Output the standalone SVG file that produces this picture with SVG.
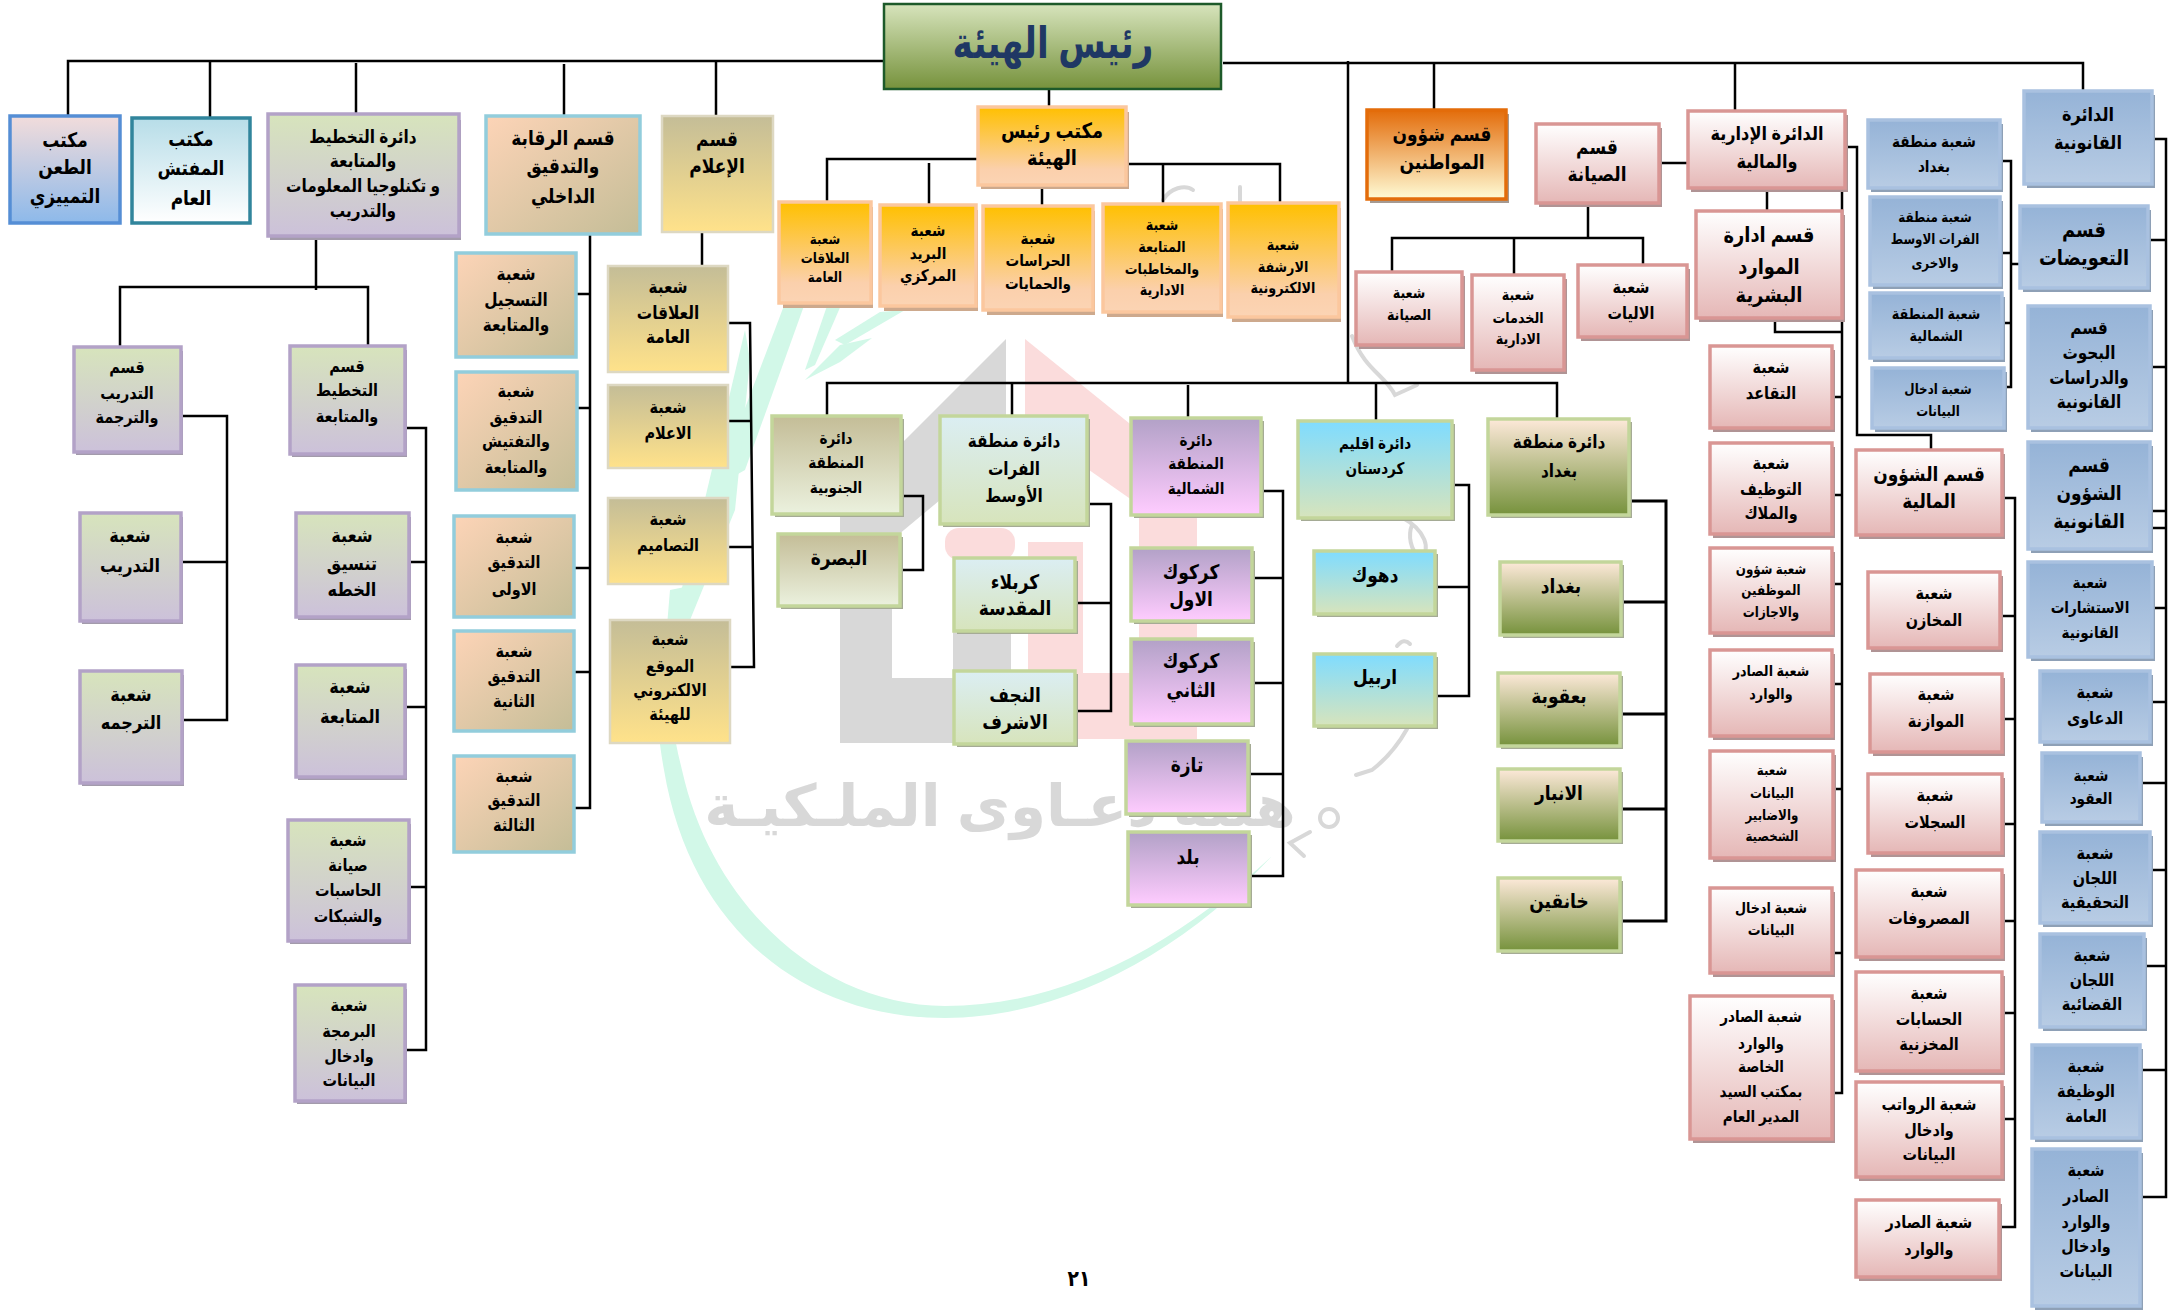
<svg xmlns="http://www.w3.org/2000/svg" width="2168" height="1311" viewBox="0 0 2168 1311">
<style>
text{font-family:"Liberation Sans","DejaVu Sans",sans-serif;font-weight:700;fill:#000;text-anchor:middle;direction:rtl;transform-box:fill-box;transform-origin:center;transform:scaleX(.85)}
.s{stroke:none}
.b{stroke-width:3.5}
#connectors path{fill:none;stroke:#000;stroke-width:2.5}
.pink .b{fill:url(#gPink);stroke:#d99694}.pink .s{fill:#b09495}
.blue .b{fill:url(#gBlue);stroke:#a9c1e0}.blue .s{fill:#8ea0b6}
.orng .b{fill:url(#gOrng);stroke:#fbc79e}.orng .s{fill:#cda98d}
.tan .b{fill:url(#gTan);stroke:#92cddc}.tan .s{fill:none}
.yel .b{fill:url(#gYel);stroke:#ddd8c2;stroke-width:2.5}.yel .s{fill:none}
.plan .b{fill:url(#gPlan);stroke:#b3a2c7}.plan .s{fill:#a39bab}
.south .b{fill:url(#gSouth);stroke:#c3d69b}.south .s{fill:#a5ab95}
.furat .b{fill:url(#gFurat);stroke:#c3d69b}.furat .s{fill:#a5ab95}
.north .b{fill:url(#gNorth);stroke:#c3d69b}.north .s{fill:#a5ab95}
.kurd .b{fill:url(#gKurd);stroke:#c3d69b}.kurd .s{fill:#a5ab95}
.bagh .b{fill:url(#gBagh);stroke:#c3d69b}.bagh .s{fill:#a5ab95}
.taan .b{fill:url(#gTaan);stroke:#558ed5}
.muf .b{fill:url(#gMuf);stroke:#31859c}
.cit .b{fill:url(#gCit);stroke:#e36c0a}.cit .s{fill:#a59a92}
.rais .b{fill:url(#gRais);stroke:#1d5a2a;stroke-width:2.5}
.rais text{fill:#1f3864;transform:scaleX(.78)}
.wm{fill:#d2f8e8}.wg{fill:#d8d8d8}.wr{fill:#fbdcdc}
#watermark text{fill:#d8d8d8;transform:none}
#watermark path.q{fill:none;stroke:#d8d8d8;stroke-width:4;stroke-linecap:round}
</style>
<defs>
<linearGradient id="gPink" x1="0" y1="0" x2="0" y2="1"><stop offset="0" stop-color="#fff"/><stop offset="1" stop-color="#e5b7b6"/></linearGradient>
<linearGradient id="gBlue" x1="0" y1="0" x2="0" y2="1"><stop offset="0" stop-color="#95b3d7"/><stop offset="1" stop-color="#b8cce4"/></linearGradient>
<linearGradient id="gOrng" x1="0" y1="0" x2="0" y2="1"><stop offset="0" stop-color="#ffc000"/><stop offset=".8" stop-color="#fbd0ac"/><stop offset="1" stop-color="#fbd4b4"/></linearGradient>
<linearGradient id="gTan" x1="0" y1="0" x2="1" y2="1"><stop offset="0" stop-color="#fdd4b7"/><stop offset="1" stop-color="#c4bd97"/></linearGradient>
<linearGradient id="gYel" x1="0" y1="0" x2="0" y2="1"><stop offset="0" stop-color="#c4bd97"/><stop offset="1" stop-color="#ffe28a"/></linearGradient>
<linearGradient id="gPlan" x1="0" y1="0" x2="0" y2="1"><stop offset="0" stop-color="#d7e4bc"/><stop offset="1" stop-color="#ccc1da"/></linearGradient>
<linearGradient id="gSouth" x1="0" y1="0" x2="0" y2="1"><stop offset="0" stop-color="#c4bd97"/><stop offset="1" stop-color="#ebf1de"/></linearGradient>
<linearGradient id="gFurat" x1="0" y1="0" x2="0" y2="1"><stop offset="0" stop-color="#dbeef3"/><stop offset="1" stop-color="#d7e4bc"/></linearGradient>
<linearGradient id="gNorth" x1="0" y1="0" x2="0" y2="1"><stop offset="0" stop-color="#b2a1c7"/><stop offset="1" stop-color="#ffccff"/></linearGradient>
<linearGradient id="gKurd" x1="0" y1="0" x2="0" y2="1"><stop offset="0" stop-color="#7fdcff"/><stop offset="1" stop-color="#d7e4bc"/></linearGradient>
<linearGradient id="gBagh" x1="0" y1="0" x2="0" y2="1"><stop offset="0" stop-color="#fde9d9"/><stop offset="1" stop-color="#76923c"/></linearGradient>
<linearGradient id="gTaan" x1="0" y1="0" x2="0" y2="1"><stop offset="0" stop-color="#f2dcdb"/><stop offset="1" stop-color="#8db9ea"/></linearGradient>
<linearGradient id="gMuf" x1="0" y1="0" x2="0" y2="1"><stop offset="0" stop-color="#b7dde8"/><stop offset="1" stop-color="#fff"/></linearGradient>
<linearGradient id="gCit" x1="0" y1="0" x2="0" y2="1"><stop offset="0" stop-color="#e36c0a"/><stop offset="1" stop-color="#fffbd5"/></linearGradient>
<linearGradient id="gRais" x1="0" y1="0" x2="0" y2="1"><stop offset="0" stop-color="#d7e4bc"/><stop offset="1" stop-color="#76923c"/></linearGradient>
</defs>
<rect width="2168" height="1311" fill="#fff"/>
<g id="watermark">
<path class="wm" d="M1272 856C1180 955 1060 1018 945 1018C800 1018 690 925 664 770C655 720 655 680 662 640L672 640C666 690 672 730 682 770C712 905 820 1005 945 1006C1060 1006 1170 950 1272 856Z"/>
<polygon class="wm" points="785,303 805,303 745,470 715,487"/>
<polygon class="wm" points="745,330 750,360 735,510 690,620 668,640 700,520"/>
<polygon class="wm" points="828,303 842,303 815,365 805,370"/>
<polygon class="wm" points="872,338 840,362 805,380 840,345"/>
<polygon class="wm" points="905,310 845,345 835,340 880,312"/>
<polygon class="wm" points="670,590 695,585 680,640 665,650"/>
<polygon class="wg" points="1006,339 1006,445 892,540 892,678 953,678 953,625 1011,625 1011,743 840,743 840,505"/>
<polygon class="wr" points="1025,339 1197,478 1197,739 1028,739 1028,542 1083,542 1083,673 1139,673 1139,505 1025,425"/>
<rect class="wr" x="945" y="528" width="70" height="32" rx="14"/>
<text x="1000" y="826" font-size="58">هيئة دعـاوى الملـكيـة</text>
<path class="q" d="M1163 200C1170 188 1185 184 1193 190M1240 187V220"/>
<path class="q" d="M1352 336C1365 370 1385 375 1395 395L1417 385"/>
<path class="q" d="M1403 518C1425 530 1432 550 1420 558C1410 550 1408 535 1412 525"/>
<path class="q" d="M1397 646C1402 640 1406 640 1410 644"/>
<path class="q" d="M1356 775L1372 770C1385 760 1398 745 1407 729"/>
<circle cx="1329" cy="818" r="9" fill="none" stroke="#d8d8d8" stroke-width="4"/>
<path class="q" d="M1310 832L1290 843L1304 856"/>
</g>
<g id="connectors">
<path d="M68 116V61H887"/><path d="M210 61V118"/><path d="M356 63V114"/><path d="M564 64V116"/><path d="M716 61V116"/>
<path d="M316 237V290M120 347V287H368V345"/>
<path d="M181 416H227V720H182M181 562H227"/>
<path d="M405 428H426V1050H405M409 562H426M405 707H426M409 887H426"/>
<path d="M590 232V808H574M576 294H590M577 408H590M574 568H590M574 672H590"/>
<path d="M702 232V266"/>
<path d="M728 323H750L754 667H730M728 421H751M728 547H752"/>
<path d="M1049 88V107"/>
<path d="M978 159H827V202M929 163V205M1042 185V206M1126 164H1280V203M1163 164V204"/>
<path d="M1223 63H2083V91M1348 61V383M1434 63V110"/>
<path d="M827 416V383H1557V419M1012 383V416M1188 385V418M1376 383V421"/>
<path d="M901 496H923V570H900"/>
<path d="M1087 504H1111V711H1075M1075 603H1111"/>
<path d="M1261 491H1283V876H1249M1252 578H1283M1252 683H1283M1248 774H1283"/>
<path d="M1452 485H1469V696H1435M1435 587H1469"/>
<path d="M1629 501H1666V921H1620M1621 602H1666M1620 714H1666M1620 809H1666" style="stroke-width:3"/>
<path d="M1659 163H1688M1588 203V238M1392 272V238H1643V265M1514 238V275"/>
<path d="M1735 63V111M1767 188V211"/>
<path d="M1842 188V1093H1832M1775 318V332H1842M1832 397H1842M1832 495H1842M1832 584H1842M1832 684H1842M1833 789H1842M1832 953H1842"/>
<path d="M1845 147H1857V435H1931V450"/>
<path d="M2000 161H2011V387H2004M2000 253H2011M2002 323H2011M2011 264H2020"/>
<path d="M2002 498H2015V1227H1999M2000 616H2015M2002 719H2015M2002 824H2015M2002 921H2015M2002 1013H2015M2002 1119H2015"/>
<path d="M2152 139H2166V1197H2140M2148 240H2166M2150 367H2166M2150 511H2166M2152 528H2165M2148 608H2166M2150 702H2166M2140 783H2166M2150 870H2166M2144 966H2166M2140 1070H2166"/>
</g>
<g id="n1" class="taan"><rect class="b" x="10" y="116" width="110" height="107"/><text font-size="20"><tspan x="65" y="147">مكتب</tspan><tspan x="65" y="174">الطعن</tspan><tspan x="65" y="203">التمييزي</tspan></text></g>
<g id="n2" class="muf"><rect class="b" x="132" y="118" width="118" height="105"/><text font-size="20"><tspan x="191" y="146">مكتب</tspan><tspan x="191" y="175">المفتش</tspan><tspan x="191" y="205">العام</tspan></text></g>
<g id="n3" class="plan"><rect class="s" x="270" y="120" width="191" height="120"/><rect class="b" x="268" y="114" width="191" height="122"/><text font-size="18"><tspan x="363" y="143">دائرة التخطيط</tspan><tspan x="363" y="167">والمتابعة</tspan><tspan x="363" y="192">و تكنلوجيا المعلومات</tspan><tspan x="363" y="217">والتدريب</tspan></text></g>
<g id="n4" class="tan"><rect class="b" x="486" y="116" width="154" height="118"/><text font-size="20"><tspan x="563" y="145">قسم الرقابة</tspan><tspan x="563" y="173">والتدقيق</tspan><tspan x="563" y="203">الداخلي</tspan></text></g>
<g id="n5" class="yel"><rect class="b" x="662" y="116" width="111" height="116"/><text font-size="20"><tspan x="717" y="146">قسم</tspan><tspan x="717" y="173">الإعلام</tspan></text></g>
<g id="n6" class="plan"><rect class="s" x="76" y="351" width="107" height="104"/><rect class="b" x="74" y="347" width="107" height="105"/><text font-size="17"><tspan x="127" y="373">قسم</tspan><tspan x="127" y="399">التدريب</tspan><tspan x="127" y="423">والترجمة</tspan></text></g>
<g id="n7" class="plan"><rect class="s" x="82" y="517" width="101" height="107"/><rect class="b" x="80" y="513" width="101" height="108"/><text font-size="19"><tspan x="130" y="542">شعبة</tspan><tspan x="130" y="572">التدريب</tspan></text></g>
<g id="n8" class="plan"><rect class="s" x="82" y="675" width="102" height="111"/><rect class="b" x="80" y="671" width="102" height="112"/><text font-size="19"><tspan x="131" y="701">شعبة</tspan><tspan x="131" y="729">الترجمه</tspan></text></g>
<g id="n9" class="plan"><rect class="s" x="292" y="350" width="115" height="107"/><rect class="b" x="290" y="346" width="115" height="108"/><text font-size="17"><tspan x="347" y="372">قسم</tspan><tspan x="347" y="396">التخطيط</tspan><tspan x="347" y="422">والمتابعة</tspan></text></g>
<g id="n10" class="plan"><rect class="s" x="298" y="517" width="113" height="103"/><rect class="b" x="296" y="513" width="113" height="104"/><text font-size="19"><tspan x="352" y="542">شعبة</tspan><tspan x="352" y="570">تنسيق</tspan><tspan x="352" y="596">الخطه</tspan></text></g>
<g id="n11" class="plan"><rect class="s" x="298" y="669" width="109" height="111"/><rect class="b" x="296" y="665" width="109" height="112"/><text font-size="19"><tspan x="350" y="693">شعبة</tspan><tspan x="350" y="723">المتابعة</tspan></text></g>
<g id="n12" class="plan"><rect class="s" x="290" y="824" width="121" height="120"/><rect class="b" x="288" y="820" width="121" height="121"/><text font-size="17"><tspan x="348" y="846">شعبة</tspan><tspan x="348" y="871">صيانة</tspan><tspan x="348" y="896">الحاسبات</tspan><tspan x="348" y="922">والشبكات</tspan></text></g>
<g id="n13" class="plan"><rect class="s" x="297" y="989" width="110" height="115"/><rect class="b" x="295" y="985" width="110" height="116"/><text font-size="17"><tspan x="349" y="1011">شعبة</tspan><tspan x="349" y="1037">البرمجة</tspan><tspan x="349" y="1062">وادخال</tspan><tspan x="349" y="1086">البيانات</tspan></text></g>
<g id="n14" class="tan"><rect class="b" x="456" y="253" width="120" height="104"/><text font-size="18"><tspan x="516" y="280">شعبة</tspan><tspan x="516" y="306">التسجيل</tspan><tspan x="516" y="331">والمتابعة</tspan></text></g>
<g id="n15" class="tan"><rect class="b" x="456" y="372" width="121" height="118"/><text font-size="17"><tspan x="516" y="397">شعبة</tspan><tspan x="516" y="423">التدقيق</tspan><tspan x="516" y="447">والتفتيش</tspan><tspan x="516" y="473">والمتابعة</tspan></text></g>
<g id="n16" class="tan"><rect class="b" x="454" y="516" width="120" height="101"/><text font-size="17"><tspan x="514" y="543">شعبة</tspan><tspan x="514" y="568">التدقيق</tspan><tspan x="514" y="595">الاولى</tspan></text></g>
<g id="n17" class="tan"><rect class="b" x="454" y="631" width="120" height="100"/><text font-size="17"><tspan x="514" y="657">شعبة</tspan><tspan x="514" y="682">التدقيق</tspan><tspan x="514" y="707">الثانية</tspan></text></g>
<g id="n18" class="tan"><rect class="b" x="454" y="756" width="120" height="96"/><text font-size="17"><tspan x="514" y="782">شعبة</tspan><tspan x="514" y="806">التدقيق</tspan><tspan x="514" y="831">الثالثة</tspan></text></g>
<g id="n19" class="yel"><rect class="b" x="608" y="266" width="120" height="106"/><text font-size="18"><tspan x="668" y="293">شعبة</tspan><tspan x="668" y="319">العلاقات</tspan><tspan x="668" y="343">العامة</tspan></text></g>
<g id="n20" class="yel"><rect class="b" x="608" y="385" width="120" height="83"/><text font-size="17"><tspan x="668" y="413">شعبة</tspan><tspan x="668" y="439">الاعلام</tspan></text></g>
<g id="n21" class="yel"><rect class="b" x="608" y="498" width="120" height="86"/><text font-size="17"><tspan x="668" y="525">شعبة</tspan><tspan x="668" y="551">التصاميم</tspan></text></g>
<g id="n22" class="yel"><rect class="b" x="610" y="620" width="120" height="123"/><text font-size="17"><tspan x="670" y="645">شعبة</tspan><tspan x="670" y="672">الموقع</tspan><tspan x="670" y="696">الالكتروني</tspan><tspan x="670" y="720">للهيئة</tspan></text></g>
<g id="n23" class="orng"><rect class="s" x="981" y="112" width="148" height="77"/><rect class="b" x="978" y="107" width="148" height="78"/><text font-size="21"><tspan x="1052" y="138">مكتب رئيس</tspan><tspan x="1052" y="165">الهيئة</tspan></text></g>
<g id="n24" class="orng"><rect class="s" x="783" y="207" width="90" height="101"/><rect class="b" x="779" y="202" width="92" height="101"/><text font-size="14"><tspan x="825" y="244">شعبة</tspan><tspan x="825" y="263">العلاقات</tspan><tspan x="825" y="282">العامة</tspan></text></g>
<g id="n25" class="orng"><rect class="s" x="884" y="210" width="94" height="101"/><rect class="b" x="880" y="205" width="96" height="101"/><text font-size="16"><tspan x="928" y="236">شعبة</tspan><tspan x="928" y="259">البريد</tspan><tspan x="928" y="281">المركزي</tspan></text></g>
<g id="n26" class="orng"><rect class="s" x="987" y="211" width="108" height="104"/><rect class="b" x="983" y="206" width="110" height="104"/><text font-size="16"><tspan x="1038" y="244">شعبة</tspan><tspan x="1038" y="266">الحراسات</tspan><tspan x="1038" y="289">والحمايات</tspan></text></g>
<g id="n27" class="orng"><rect class="s" x="1107" y="209" width="116" height="108"/><rect class="b" x="1103" y="204" width="118" height="108"/><text font-size="15"><tspan x="1162" y="230">شعبة</tspan><tspan x="1162" y="252">المتابعة</tspan><tspan x="1162" y="274">والمخاطبات</tspan><tspan x="1162" y="295">الادارية</tspan></text></g>
<g id="n28" class="orng"><rect class="s" x="1232" y="208" width="109" height="114"/><rect class="b" x="1228" y="203" width="111" height="114"/><text font-size="15"><tspan x="1283" y="250">شعبة</tspan><tspan x="1283" y="272">الارشفة</tspan><tspan x="1283" y="293">الالكترونية</tspan></text></g>
<g id="n0" class="rais"><rect class="b" x="884" y="4" width="337" height="85"/><text font-size="44" x="1053" y="58">رئيس الهيئة</text></g>
<g id="n29" class="south"><rect class="s" x="775" y="419" width="129" height="98"/><rect class="b" x="772" y="416" width="129" height="98"/><text font-size="16"><tspan x="836" y="444">دائرة</tspan><tspan x="836" y="468">المنطقة</tspan><tspan x="836" y="493">الجنوبية</tspan></text></g>
<g id="n30" class="south"><rect class="s" x="781" y="537" width="122" height="72"/><rect class="b" x="778" y="534" width="122" height="72"/><text font-size="20" x="839" y="565">البصرة</text></g>
<g id="n31" class="furat"><rect class="s" x="943" y="419" width="147" height="108"/><rect class="b" x="940" y="416" width="147" height="108"/><text font-size="18"><tspan x="1014" y="447">دائرة منطقة</tspan><tspan x="1014" y="475">الفرات</tspan><tspan x="1014" y="502">الأوسط</tspan></text></g>
<g id="n32" class="furat"><rect class="s" x="957" y="561" width="121" height="73"/><rect class="b" x="954" y="558" width="121" height="73"/><text font-size="20"><tspan x="1015" y="589">كربلاء</tspan><tspan x="1015" y="615">المقدسة</tspan></text></g>
<g id="n33" class="furat"><rect class="s" x="957" y="674" width="121" height="73"/><rect class="b" x="954" y="671" width="121" height="73"/><text font-size="20"><tspan x="1015" y="702">النجف</tspan><tspan x="1015" y="729">الاشرف</tspan></text></g>
<g id="n34" class="north"><rect class="s" x="1134" y="421" width="130" height="97"/><rect class="b" x="1131" y="418" width="130" height="97"/><text font-size="16"><tspan x="1196" y="446">دائرة</tspan><tspan x="1196" y="469">المنطقة</tspan><tspan x="1196" y="494">الشمالية</tspan></text></g>
<g id="n35" class="north"><rect class="s" x="1134" y="551" width="121" height="73"/><rect class="b" x="1131" y="548" width="121" height="73"/><text font-size="20"><tspan x="1191" y="579">كركوك</tspan><tspan x="1191" y="606">الاول</tspan></text></g>
<g id="n36" class="north"><rect class="s" x="1134" y="642" width="121" height="85"/><rect class="b" x="1131" y="639" width="121" height="85"/><text font-size="20"><tspan x="1191" y="668">كركوك</tspan><tspan x="1191" y="697">الثاني</tspan></text></g>
<g id="n37" class="north"><rect class="s" x="1129" y="744" width="122" height="73"/><rect class="b" x="1126" y="741" width="122" height="73"/><text font-size="20" x="1187" y="772">تازة</text></g>
<g id="n38" class="north"><rect class="s" x="1131" y="835" width="121" height="73"/><rect class="b" x="1128" y="832" width="121" height="73"/><text font-size="20" x="1188" y="864">بلد</text></g>
<g id="n39" class="kurd"><rect class="s" x="1301" y="424" width="154" height="97"/><rect class="b" x="1298" y="421" width="154" height="97"/><text font-size="16"><tspan x="1375" y="449">دائرة اقليم</tspan><tspan x="1375" y="474">كردستان</tspan></text></g>
<g id="n40" class="kurd"><rect class="s" x="1317" y="554" width="121" height="63"/><rect class="b" x="1314" y="551" width="121" height="63"/><text font-size="20" x="1375" y="582">دهوك</text></g>
<g id="n41" class="kurd"><rect class="s" x="1317" y="657" width="121" height="72"/><rect class="b" x="1314" y="654" width="121" height="72"/><text font-size="20" x="1375" y="684">اربيل</text></g>
<g id="n42" class="bagh"><rect class="s" x="1491" y="422" width="141" height="96"/><rect class="b" x="1488" y="419" width="141" height="96"/><text font-size="18"><tspan x="1559" y="448">دائرة منطقة</tspan><tspan x="1559" y="477">بغداد</tspan></text></g>
<g id="n43" class="bagh"><rect class="s" x="1503" y="565" width="121" height="73"/><rect class="b" x="1500" y="562" width="121" height="73"/><text font-size="20" x="1561" y="593">بغداد</text></g>
<g id="n44" class="bagh"><rect class="s" x="1501" y="676" width="122" height="73"/><rect class="b" x="1498" y="673" width="122" height="73"/><text font-size="20" x="1559" y="703">بعقوبة</text></g>
<g id="n45" class="bagh"><rect class="s" x="1501" y="772" width="122" height="72"/><rect class="b" x="1498" y="769" width="122" height="72"/><text font-size="20" x="1559" y="800">الانبار</text></g>
<g id="n46" class="bagh"><rect class="s" x="1501" y="881" width="122" height="73"/><rect class="b" x="1498" y="878" width="122" height="73"/><text font-size="20" x="1559" y="908">خانقين</text></g>
<g id="n47" class="cit"><rect class="s" x="1370" y="114" width="139" height="89"/><rect class="b" x="1367" y="110" width="139" height="89"/><text font-size="20"><tspan x="1442" y="141">قسم شؤون</tspan><tspan x="1442" y="169">المواطنين</tspan></text></g>
<g id="n48" class="pink"><rect class="s" x="1539" y="128" width="123" height="79"/><rect class="b" x="1536" y="124" width="123" height="79"/><text font-size="20"><tspan x="1597" y="154">قسم</tspan><tspan x="1597" y="181">الصيانة</tspan></text></g>
<g id="n49" class="pink"><rect class="s" x="1359" y="276" width="106" height="73"/><rect class="b" x="1356" y="272" width="106" height="73"/><text font-size="15"><tspan x="1409" y="298">شعبة</tspan><tspan x="1409" y="320">الصيانة</tspan></text></g>
<g id="n50" class="pink"><rect class="s" x="1475" y="279" width="92" height="95"/><rect class="b" x="1472" y="275" width="92" height="95"/><text font-size="15"><tspan x="1518" y="300">شعبة</tspan><tspan x="1518" y="323">الخدمات</tspan><tspan x="1518" y="344">الادارية</tspan></text></g>
<g id="n51" class="pink"><rect class="s" x="1581" y="269" width="109" height="72"/><rect class="b" x="1578" y="265" width="109" height="72"/><text font-size="17"><tspan x="1631" y="293">شعبة</tspan><tspan x="1631" y="319">الاليات</tspan></text></g>
<g id="n52" class="pink"><rect class="s" x="1691" y="115" width="157" height="77"/><rect class="b" x="1688" y="111" width="157" height="77"/><text font-size="19"><tspan x="1767" y="140">الدائرة الإدارية</tspan><tspan x="1767" y="168">والمالية</tspan></text></g>
<g id="n53" class="pink"><rect class="s" x="1699" y="215" width="146" height="107"/><rect class="b" x="1696" y="211" width="146" height="107"/><text font-size="21"><tspan x="1769" y="242">قسم ادارة</tspan><tspan x="1769" y="274">الموارد</tspan><tspan x="1769" y="302">البشرية</tspan></text></g>
<g id="n54" class="pink"><rect class="s" x="1713" y="350" width="122" height="82"/><rect class="b" x="1710" y="346" width="122" height="82"/><text font-size="17"><tspan x="1771" y="373">شعبة</tspan><tspan x="1771" y="399">التقاعد</tspan></text></g>
<g id="n55" class="pink"><rect class="s" x="1713" y="447" width="122" height="91"/><rect class="b" x="1710" y="443" width="122" height="91"/><text font-size="17"><tspan x="1771" y="469">شعبة</tspan><tspan x="1771" y="495">التوظيف</tspan><tspan x="1771" y="519">والملاك</tspan></text></g>
<g id="n56" class="pink"><rect class="s" x="1713" y="552" width="122" height="85"/><rect class="b" x="1710" y="548" width="122" height="85"/><text font-size="14"><tspan x="1771" y="574">شعبة شؤون</tspan><tspan x="1771" y="595">الموظفين</tspan><tspan x="1771" y="617">والاجازات</tspan></text></g>
<g id="n57" class="pink"><rect class="s" x="1713" y="654" width="122" height="86"/><rect class="b" x="1710" y="650" width="122" height="86"/><text font-size="15"><tspan x="1771" y="676">شعبة الصادر</tspan><tspan x="1771" y="699">والوارد</tspan></text></g>
<g id="n58" class="pink"><rect class="s" x="1713" y="755" width="123" height="107"/><rect class="b" x="1710" y="751" width="123" height="107"/><text font-size="14"><tspan x="1772" y="775">شعبة</tspan><tspan x="1772" y="798">البيانات</tspan><tspan x="1772" y="820">والاضابير</tspan><tspan x="1772" y="841">الشخصية</tspan></text></g>
<g id="n59" class="pink"><rect class="s" x="1713" y="892" width="122" height="85"/><rect class="b" x="1710" y="888" width="122" height="85"/><text font-size="15"><tspan x="1771" y="913">شعبة ادخال</tspan><tspan x="1771" y="935">البيانات</tspan></text></g>
<g id="n60" class="pink"><rect class="s" x="1693" y="1000" width="142" height="143"/><rect class="b" x="1690" y="996" width="142" height="143"/><text font-size="16"><tspan x="1761" y="1022">شعبة الصادر</tspan><tspan x="1761" y="1049">والوارد</tspan><tspan x="1761" y="1072">الخاصة</tspan><tspan x="1761" y="1097">بمكتب السيد</tspan><tspan x="1761" y="1122">المدير العام</tspan></text></g>
<g id="n61" class="blue"><rect class="s" x="1871" y="124" width="132" height="68"/><rect class="b" x="1868" y="120" width="132" height="68"/><text font-size="16"><tspan x="1934" y="147">شعبة منطقة</tspan><tspan x="1934" y="172">بغداد</tspan></text></g>
<g id="n62" class="blue"><rect class="s" x="1873" y="201" width="130" height="88"/><rect class="b" x="1870" y="197" width="130" height="88"/><text font-size="14"><tspan x="1935" y="222">شعبة منطقة</tspan><tspan x="1935" y="244">الفرات الاوسط</tspan><tspan x="1935" y="268">والاخرى</tspan></text></g>
<g id="n63" class="blue"><rect class="s" x="1873" y="297" width="132" height="65"/><rect class="b" x="1870" y="293" width="132" height="65"/><text font-size="15"><tspan x="1936" y="319">شعبة المنطقة</tspan><tspan x="1936" y="341">الشمالية</tspan></text></g>
<g id="n64" class="blue"><rect class="s" x="1875" y="372" width="132" height="60"/><rect class="b" x="1872" y="368" width="132" height="60"/><text font-size="14"><tspan x="1938" y="394">شعبة ادخال</tspan><tspan x="1938" y="416">البيانات</tspan></text></g>
<g id="n65" class="pink"><rect class="s" x="1859" y="454" width="146" height="85"/><rect class="b" x="1856" y="450" width="146" height="85"/><text font-size="20"><tspan x="1929" y="481">قسم الشؤون</tspan><tspan x="1929" y="508">المالية</tspan></text></g>
<g id="n66" class="pink"><rect class="s" x="1871" y="576" width="132" height="76"/><rect class="b" x="1868" y="572" width="132" height="76"/><text font-size="17"><tspan x="1934" y="599">شعبة</tspan><tspan x="1934" y="626">المخازن</tspan></text></g>
<g id="n67" class="pink"><rect class="s" x="1873" y="678" width="132" height="78"/><rect class="b" x="1870" y="674" width="132" height="78"/><text font-size="17"><tspan x="1936" y="700">شعبة</tspan><tspan x="1936" y="727">الموازنة</tspan></text></g>
<g id="n68" class="pink"><rect class="s" x="1871" y="778" width="134" height="79"/><rect class="b" x="1868" y="774" width="134" height="79"/><text font-size="17"><tspan x="1935" y="801">شعبة</tspan><tspan x="1935" y="828">السجلات</tspan></text></g>
<g id="n69" class="pink"><rect class="s" x="1859" y="874" width="146" height="87"/><rect class="b" x="1856" y="870" width="146" height="87"/><text font-size="17"><tspan x="1929" y="897">شعبة</tspan><tspan x="1929" y="924">المصروفات</tspan></text></g>
<g id="n70" class="pink"><rect class="s" x="1859" y="976" width="146" height="99"/><rect class="b" x="1856" y="972" width="146" height="99"/><text font-size="17"><tspan x="1929" y="999">شعبة</tspan><tspan x="1929" y="1025">الحسابات</tspan><tspan x="1929" y="1050">المخزنية</tspan></text></g>
<g id="n71" class="pink"><rect class="s" x="1859" y="1086" width="146" height="95"/><rect class="b" x="1856" y="1082" width="146" height="95"/><text font-size="17"><tspan x="1929" y="1110">شعبة الرواتب</tspan><tspan x="1929" y="1136">وادخال</tspan><tspan x="1929" y="1160">البيانات</tspan></text></g>
<g id="n72" class="pink"><rect class="s" x="1859" y="1204" width="143" height="77"/><rect class="b" x="1856" y="1200" width="143" height="77"/><text font-size="17"><tspan x="1929" y="1228">شعبة الصادر</tspan><tspan x="1929" y="1255">والوارد</tspan></text></g>
<g id="n73" class="blue"><rect class="s" x="2027" y="95" width="128" height="93"/><rect class="b" x="2024" y="91" width="128" height="93"/><text font-size="19"><tspan x="2088" y="121">الدائرة</tspan><tspan x="2088" y="149">القانونية</tspan></text></g>
<g id="n74" class="blue"><rect class="s" x="2023" y="210" width="128" height="82"/><rect class="b" x="2020" y="206" width="128" height="82"/><text font-size="21"><tspan x="2084" y="237">قسم</tspan><tspan x="2084" y="265">التعويضات</tspan></text></g>
<g id="n75" class="blue"><rect class="s" x="2031" y="310" width="122" height="122"/><rect class="b" x="2028" y="306" width="122" height="122"/><text font-size="18"><tspan x="2089" y="334">قسم</tspan><tspan x="2089" y="359">البحوث</tspan><tspan x="2089" y="384">والدراسات</tspan><tspan x="2089" y="408">القانونية</tspan></text></g>
<g id="n76" class="blue"><rect class="s" x="2031" y="446" width="122" height="107"/><rect class="b" x="2028" y="442" width="122" height="107"/><text font-size="20"><tspan x="2089" y="472">قسم</tspan><tspan x="2089" y="500">الشؤون</tspan><tspan x="2089" y="528">القانونية</tspan></text></g>
<g id="n77" class="blue"><rect class="s" x="2031" y="566" width="124" height="95"/><rect class="b" x="2028" y="562" width="124" height="95"/><text font-size="16"><tspan x="2090" y="588">شعبة</tspan><tspan x="2090" y="613">الاستشارات</tspan><tspan x="2090" y="638">القانونية</tspan></text></g>
<g id="n78" class="blue"><rect class="s" x="2043" y="675" width="110" height="71"/><rect class="b" x="2040" y="671" width="110" height="71"/><text font-size="17"><tspan x="2095" y="698">شعبة</tspan><tspan x="2095" y="724">الدعاوى</tspan></text></g>
<g id="n79" class="blue"><rect class="s" x="2045" y="757" width="98" height="69"/><rect class="b" x="2042" y="753" width="98" height="69"/><text font-size="16"><tspan x="2091" y="781">شعبة</tspan><tspan x="2091" y="804">العقود</tspan></text></g>
<g id="n80" class="blue"><rect class="s" x="2043" y="836" width="110" height="91"/><rect class="b" x="2040" y="832" width="110" height="91"/><text font-size="17"><tspan x="2095" y="859">شعبة</tspan><tspan x="2095" y="884">اللجان</tspan><tspan x="2095" y="908">التحقيقية</tspan></text></g>
<g id="n81" class="blue"><rect class="s" x="2043" y="938" width="104" height="93"/><rect class="b" x="2040" y="934" width="104" height="93"/><text font-size="17"><tspan x="2092" y="961">شعبة</tspan><tspan x="2092" y="986">اللجان</tspan><tspan x="2092" y="1010">القضائية</tspan></text></g>
<g id="n82" class="blue"><rect class="s" x="2035" y="1049" width="108" height="93"/><rect class="b" x="2032" y="1045" width="108" height="93"/><text font-size="17"><tspan x="2086" y="1072">شعبة</tspan><tspan x="2086" y="1097">الوظيفة</tspan><tspan x="2086" y="1122">العامة</tspan></text></g>
<g id="n83" class="blue"><rect class="s" x="2035" y="1153" width="108" height="157"/><rect class="b" x="2032" y="1149" width="108" height="157"/><text font-size="17"><tspan x="2086" y="1176">شعبة</tspan><tspan x="2086" y="1202">الصادر</tspan><tspan x="2086" y="1228">والوارد</tspan><tspan x="2086" y="1252">وادخال</tspan><tspan x="2086" y="1277">البيانات</tspan></text></g>
<text id="page" x="1079" y="1286" font-size="22">٢١</text>
</svg>
